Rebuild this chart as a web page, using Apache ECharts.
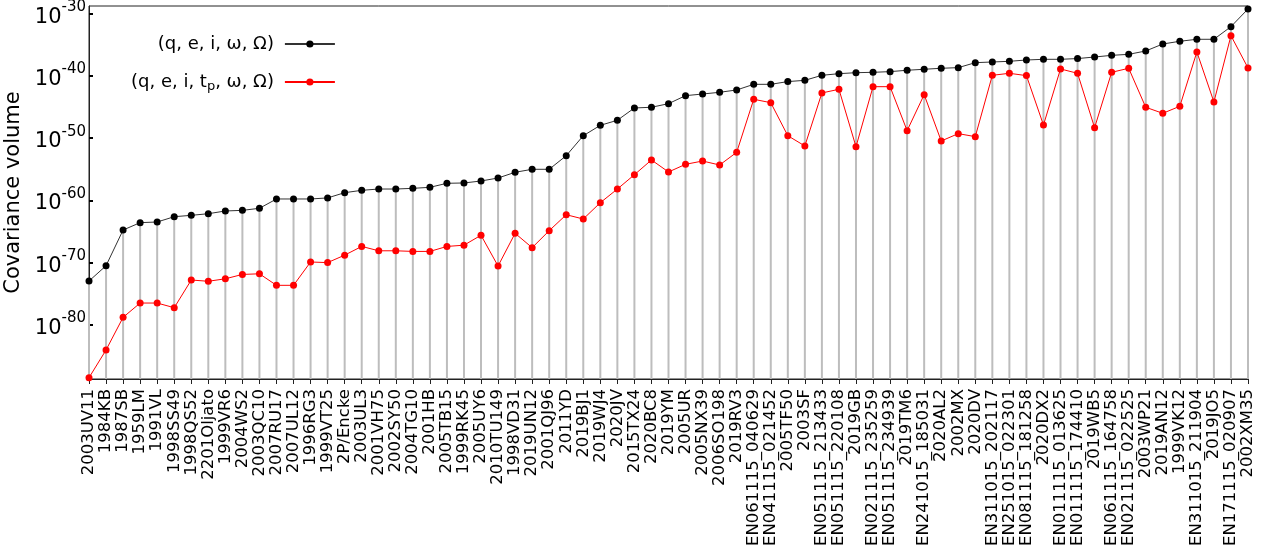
<!DOCTYPE html>
<html>
<head>
<meta charset="utf-8">
<script src="https://cdn.jsdelivr.net/npm/echarts@6/dist/echarts.min.js"></script>
<style>
html,body{margin:0;padding:0;background:#fff;}
#chart{width:1261px;height:550px;}
</style>
</head>
<body>
<div id="chart"></div>
<script>
// Object designations (x categories)
const categories = [
  "2003UV11","1984KB","1987SB","1959LM","1991VL","1998SS49","1998QS52","2201Oljato","1999VR6","2004WS2",
  "2003QC10","2007RU17","2007UL12","1996RG3","1999VT25","2P/Encke","2003UL3","2001VH75","2002SY50","2004TG10",
  "2001HB","2005TB15","1999RK45","2005UY6","2010TU149","1998VD31","2019UN12","2001QJ96","2011YD","2019BJ1",
  "2019WJ4","2020JV","2015TX24","2020BC8","2019YM","2005UR","2005NX39","2006SO198","2019RV3","EN061115_040629",
  "EN041115_021452","2005TF50","2003SF","EN051115_213433","EN051115_220108","2019GB","EN021115_235259","EN051115_234939","2019TM6","EN241015_185031",
  "2020AL2","2002MX","2020DV","EN311015_202117","EN251015_022301","EN081115_181258","2020DX2","EN011115_013625","EN011115_174410","2019WB5",
  "EN061115_164758","EN021115_022525","2003WP21","2019AN12","1999VK12","EN311015_211904","2019JO5","EN171115_020907","2002XM35"
];

// log10 of covariance volume, 5-element set (q, e, i, w, Omega)
const logVol5 = [
  -72.96,-70.5,-64.76,-63.58,-63.47,-62.62,-62.4,-62.14,-61.7,-61.6,
  -61.27,-59.77,-59.77,-59.77,-59.6,-58.76,-58.38,-58.17,-58.17,-58.06,
  -57.9,-57.25,-57.2,-56.88,-56.4,-55.48,-55.0,-55.0,-52.81,-49.6,
  -47.93,-47.12,-45.14,-45.03,-44.45,-43.16,-42.9,-42.62,-42.25,-41.34,
  -41.34,-40.9,-40.7,-39.89,-39.63,-39.47,-39.41,-39.3,-39.08,-38.92,
  -38.76,-38.66,-37.86,-37.75,-37.64,-37.43,-37.32,-37.32,-37.2,-36.95,
  -36.68,-36.52,-35.98,-34.86,-34.42,-34.1,-34.1,-32.07,-29.23
];

// log10 of covariance volume, 6-element set (q, e, i, tp, w, Omega)
const logVol6 = [
  -88.5,-84.05,-78.8,-76.5,-76.5,-77.25,-72.8,-73.0,-72.6,-71.9,
  -71.8,-73.65,-73.65,-69.9,-70.0,-68.8,-67.4,-68.1,-68.1,-68.2,
  -68.2,-67.4,-67.2,-65.6,-70.55,-65.29,-67.6,-64.87,-62.3,-62.99,
  -60.37,-58.17,-55.87,-53.5,-55.43,-54.2,-53.67,-54.31,-52.27,-43.75,
  -44.29,-49.6,-51.25,-42.73,-42.14,-51.37,-41.72,-41.72,-48.79,-43.0,
  -50.45,-49.27,-49.75,-39.89,-39.57,-39.94,-47.88,-38.87,-39.57,-48.31,
  -39.41,-38.76,-45.03,-46.0,-44.87,-36.14,-44.18,-33.52,-38.71
];

// exponent tick labels
const yTickExponents = [-80,-70,-60,-50,-40,-30];
const yMinExp = -88.71;
const yMaxExp = -28.75;

const seriesNames = ["(q, e, i, ω, Ω)", "(q, e, i, tp, ω, Ω)"];

const FONT = "DejaVu Sans";
const chart = echarts.init(document.getElementById('chart'));

chart.setOption({
  animation: false,
  backgroundColor: '#fff',
  textStyle: { fontFamily: FONT },
  grid: {
    left: 89, right: 13, top: 6, bottom: 171,
    containLabel: false,
    outerBoundsMode: 'none',
    show: true, borderColor: '#222', borderWidth: 1, backgroundColor: 'transparent'
  },
  legend: {
    data: seriesNames,
    orient: 'vertical',
    align: 'right',
    left: 131, top: 33,
    padding: 0,
    itemGap: 16,
    itemWidth: 50, itemHeight: 9,
    formatter: function (name) {
      if (name === seriesNames[1]) return '(q, e, i, t{sub|p}, ω, Ω)';
      return name;
    },
    textStyle: {
      fontFamily: FONT, fontSize: 18, color: '#000', lineHeight: 22,
      padding: [0, 6, 0, 0],
      rich: {
        sub: { fontFamily: FONT, fontSize: 13, verticalAlign: 'bottom', lineHeight: 18, padding: [6, 0, 0, 0] }
      }
    }
  },
  xAxis: {
    type: 'category',
    data: categories,
    boundaryGap: false,
    axisLine: { lineStyle: { color: '#222', width: 1 } },
    axisTick: { show: true, interval: 0, length: 5, lineStyle: { color: '#222' } },
    axisLabel: {
      interval: 0, rotate: 90, margin: 10,
      fontFamily: FONT, fontSize: 16.5, color: '#000'
    },
    splitLine: { show: false }
  },
  yAxis: {
    type: 'value',
    min: yMinExp, max: yMaxExp,
    name: 'Covariance volume',
    nameLocation: 'middle',
    nameGap: 59,
    nameTextStyle: { fontFamily: FONT, fontSize: 21, color: '#000' },
    axisLine: { show: true, lineStyle: { color: '#222', width: 1 } },
    axisTick: { show: true, inside: true, length: 4, customValues: yTickExponents, lineStyle: { color: '#000', width: 2 } },
    axisLabel: {
      customValues: yTickExponents,
      margin: 3,
      formatter: function (v) { return '{b|10}{s|' + Math.round(v) + '}'; },
      rich: {
        b: { fontFamily: FONT, fontSize: 21, color: '#000', lineHeight: 28, verticalAlign: 'bottom' },
        s: { fontFamily: FONT, fontSize: 15, color: '#000', lineHeight: 15, verticalAlign: 'top' }
      }
    },
    splitLine: { show: false }
  },
  series: [
    {
      type: 'custom',
      name: 'stems',
      silent: true,
      z: 1,
      data: logVol5.map(function (v, i) { return [i, v]; }),
      renderItem: function (params, api) {
        const top = api.coord([api.value(0), api.value(1)]);
        const bot = api.coord([api.value(0), yMinExp]);
        return {
          type: 'line',
          shape: { x1: top[0], y1: top[1], x2: bot[0], y2: bot[1] },
          style: { stroke: '#bdbdbd', lineWidth: 2 }
        };
      }
    },
    {
      type: 'line',
      name: seriesNames[0],
      data: logVol5,
      z: 3,
      symbol: 'circle', symbolSize: 7,
      lineStyle: { color: '#333', width: 1 },
      itemStyle: { color: '#000' }
    },
    {
      type: 'line',
      name: seriesNames[1],
      data: logVol6,
      z: 4,
      symbol: 'circle', symbolSize: 7,
      lineStyle: { color: '#ff0000', width: 1 },
      itemStyle: { color: '#ff0000' }
    }
  ]
});
</script>
</body>
</html>
